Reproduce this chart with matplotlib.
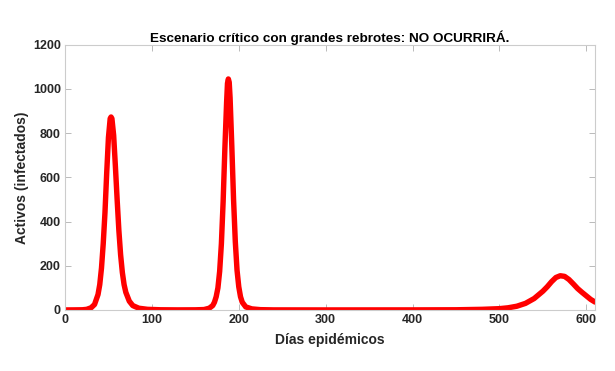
import matplotlib
matplotlib.use("Agg")
import matplotlib.pyplot as plt

# Days (x) and active infected values (y)
dias = [0, 10, 20, 25, 30, 34, 38, 40, 42, 44, 46, 48, 50, 52, 53, 54, 56, 58, 60,
        62, 64, 66, 68, 70, 74, 78, 85, 95, 110, 130, 150, 160, 166, 170, 172, 174,
        176, 178, 180, 182, 184, 186, 187, 188, 189, 190, 192, 194, 196, 198, 200, 202, 204,
        208, 215, 225, 240, 300, 400, 450, 480, 500, 510, 520, 530, 540, 550, 555,
        560, 565, 570, 575, 580, 585, 590, 595, 600, 605, 610]
activos = [0.3, 0.5, 1, 3, 10, 25, 70, 115, 190, 300, 440, 620, 780, 866, 873, 866,
           790, 650, 500, 360, 250, 170, 115, 80, 40, 20, 8, 3, 1, 0.5, 0.8, 2, 8, 20,
           35, 60, 100, 175, 300, 490, 730, 940, 1025, 1045, 1030, 960, 740, 500, 310, 180, 105,
           60, 35, 14, 5, 1.5, 0.5, 0.3, 0.5, 1, 3, 6, 10, 17, 30, 52, 85, 105, 128,
           147, 155, 152, 138, 118, 97, 80, 64, 48, 36]

xticks = [0, 100, 200, 300, 400, 500, 600]
yticks = [0, 200, 400, 600, 800, 1000, 1200]

titulo = "Escenario crítico con grandes rebrotes: NO OCURRIRÁ."
xlab = "Días epidémicos"
ylab = "Activos (infectados)"

plt.rcParams['font.family'] = ['Liberation Sans', 'DejaVu Sans']

fig = plt.figure(figsize=(6.15, 3.71), dpi=100)
ax = fig.add_axes([65/615, 1-310/371, (595-65)/615, (310-44.7)/371])

ax.plot(dias, activos, color='#ff0000', lw=3.9, solid_capstyle='round',
        solid_joinstyle='round')

ax.set_xlim(0, 610)
ax.set_ylim(0, 1200)
ax.set_xticks(xticks)
ax.set_yticks(yticks)

txtc = '#262626'
for s in ax.spines.values():
    s.set_color('#cccccc')
    s.set_linewidth(0.8)
ax.tick_params(direction='in', length=4, width=0.6, color='#b0b0b0',
               top=True, right=True, labelsize=9, labelcolor=txtc, pad=3)
for lab in ax.get_xticklabels() + ax.get_yticklabels():
    lab.set_fontweight('bold')

ax.set_title(titulo, fontsize=9.7, fontweight='bold', color='#000000', pad=2)
ax.set_xlabel(xlab, fontsize=10, fontweight='bold', color=txtc, labelpad=5)
ax.set_ylabel(ylab, fontsize=10, fontweight='bold', color=txtc, labelpad=3)

fig.savefig("out.png", dpi=100)
